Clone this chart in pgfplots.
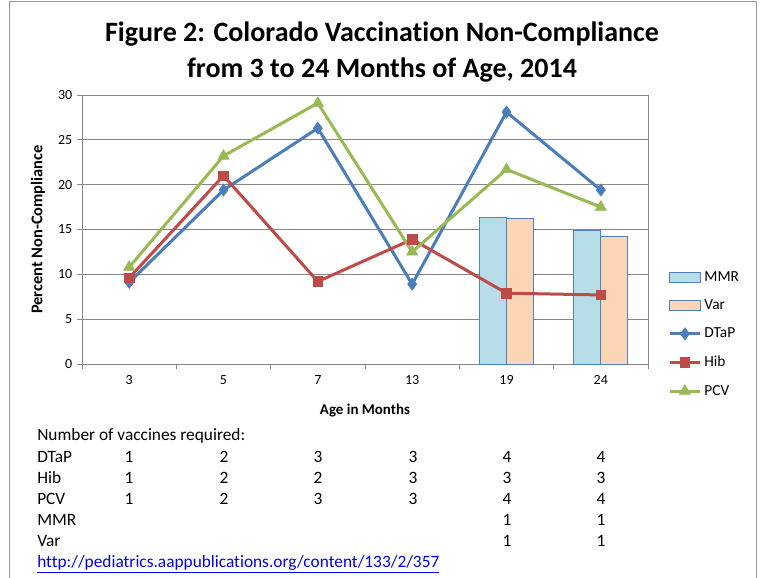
\documentclass[border=0pt]{standalone}
\usepackage{pgfplots}
\pgfplotsset{compat=1.18}
\usepackage{fontspec}
\setmainfont{Carlito}[Ligatures={NoCommon,NoContextual}]
\definecolor{dtap}{RGB}{74,126,187}
\definecolor{hib}{RGB}{190,75,72}
\definecolor{pcv}{RGB}{152,185,84}
\definecolor{mmrfill}{RGB}{183,221,232}
\definecolor{varfill}{RGB}{252,213,181}
\definecolor{baredge}{RGB}{79,129,189}
\definecolor{gridc}{RGB}{134,134,134}
\definecolor{framec}{RGB}{150,150,150}
\definecolor{linkc}{RGB}{0,0,238}
\begin{document}
\begin{tikzpicture}[x=0.75pt,y=-0.75pt]
\useasboundingbox (0,0) rectangle (762,577);
\draw[framec, line width=0.75pt] (9,590) -- (9,2) -- (756,2) -- (756,590);
\node[font=\bfseries\fontsize{21}{26.5}\selectfont, align=center] at (382,52) {Figure 2: Colorado Vaccination Non-Compliance\\from 3 to 24 Months of Age, 2014};
\begin{axis}[
  at={(61.5pt,-273pt)}, anchor=south west,
  scale only axis, width=424.5pt, height=201.75pt,
  xmin=-0.5, xmax=5.5, ymin=0, ymax=30,
  ytick={0,5,...,30},
  xtick={0,...,5}, xticklabels={3,5,7,13,19,24},
  minor xtick={-0.5,0.5,...,5.5},
  major x tick style={draw=none},
  tick align=outside, xtick pos=bottom, ytick pos=left,
  major tick length=3.75pt, minor tick length=3.75pt,
  every tick/.style={gridc, line width=0.6pt},
  ymajorgrids, grid style={gridc, line width=0.6pt},
  axis line style={gridc, line width=0.6pt},
  /pgf/number format/assume math mode=true,
  ticklabel style={font=\fontsize{10.5}{12}\selectfont},
  x tick label style={yshift=-1pt},
  xlabel={Age in Months}, ylabel={Percent Non-Compliance},
  xlabel style={font=\bfseries\fontsize{11.2}{13}\selectfont, yshift=-8pt},
  ylabel style={font=\bfseries\fontsize{12.3}{14}\selectfont, yshift=3pt},
  legend style={at={(1.035,0.355)}, anchor=north west, draw=none, fill=none,
     font=\fontsize{11.5}{13}\selectfont, row sep=8.3pt, inner sep=0pt},
  legend cell align=left,
]
\addplot[ybar, bar width=20.25pt, bar shift=-10.125pt, fill=mmrfill, draw=baredge, line width=0.6pt,
  legend image code/.code={\draw[fill=mmrfill, draw=baredge, line width=0.6pt] (0pt,-3.75pt) rectangle (23pt,3.75pt);}]
  coordinates {(4,16.3) (5,14.9)};
\addlegendentry{MMR}
\addplot[ybar, bar width=20.25pt, bar shift=10.125pt, fill=varfill, draw=baredge, line width=0.6pt,
  legend image code/.code={\draw[fill=varfill, draw=baredge, line width=0.6pt] (0pt,-3.75pt) rectangle (23pt,3.75pt);}]
  coordinates {(4,16.2) (5,14.2)};
\addlegendentry{Var}
\pgfplotsset{every axis plot/.append style={
  legend image code/.code={\draw[##1, mark repeat=2, mark phase=2] plot coordinates {(0pt,0pt) (11.5pt,0pt) (23pt,0pt)};}}}
\addplot[dtap, line width=2.25pt, mark=diamond*, mark size=4.5pt, mark options={solid, line width=0.5pt}]
  coordinates {(0,9.1) (1,19.4) (2,26.3) (3,8.9) (4,28.1) (5,19.4)};
\addlegendentry{DTaP}
\addplot[hib, line width=2.25pt, mark=square*, mark size=3.6pt, mark options={solid, line width=0.5pt}]
  coordinates {(0,9.6) (1,21.0) (2,9.2) (3,13.9) (4,7.9) (5,7.7)};
\addlegendentry{Hib}
\addplot[pcv, line width=2.25pt, mark=triangle*, mark size=4.8pt, mark options={solid, line width=0.5pt}]
  coordinates {(0,10.8) (1,23.2) (2,29.1) (3,12.5) (4,21.7) (5,17.5)};
\addlegendentry{PCV}
\end{axis}
\begin{scope}[font=\fontsize{13}{15}\selectfont]
\node[anchor=west, inner xsep=0pt] at (37,436) {Number of vaccines required:};
\foreach \name/\a/\b/\c/\d/\e/\f [count=\r from 0] in {DTaP/1/2/3/3/4/4, Hib/1/2/2/3/3/3, PCV/1/2/3/3/4/4, MMR/ / / / /1/1, Var/ / / / /1/1}{
  \pgfmathsetmacro{\yy}{457+21*\r}
  \node[anchor=west, inner xsep=0pt] at (37,\yy) {\name};
  \node at (129,\yy) {\a};
  \node at (224,\yy) {\b};
  \node at (318,\yy) {\c};
  \node at (413,\yy) {\d};
  \node at (507,\yy) {\e};
  \node at (601,\yy) {\f};
}
\node[anchor=west, inner xsep=0pt, text=linkc] at (37,564) {\underline{http://pediatrics.aappublications.org/content/133/2/357}};
\end{scope}
\end{tikzpicture}
\end{document}
